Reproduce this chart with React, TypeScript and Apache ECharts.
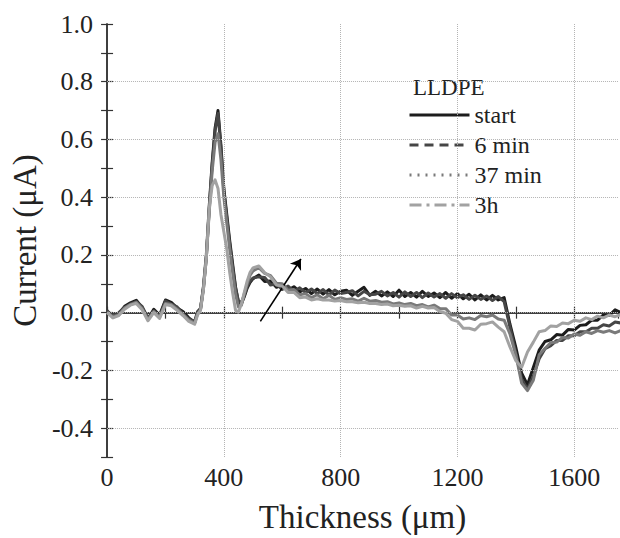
import React, { useEffect, useRef } from 'react';
import * as echarts from 'echarts';

// Thickness positions (µm)
const thickness = [
  0, 20, 40, 60, 80, 100, 120, 140, 160, 180, 200, 220, 240, 260, 280, 300,
  310, 320, 330, 340, 350, 360, 370, 380, 390, 400,
  410, 420, 430, 440, 450, 460, 470, 480, 490, 500,
  520, 540, 560, 580, 600,
  620, 640, 660, 680, 700,
  720, 740, 760, 780, 800,
  820, 840, 860, 880, 900,
  920, 940, 960, 980, 1000,
  1020, 1040, 1060, 1080, 1100,
  1120, 1140, 1160, 1180, 1200,
  1220, 1240, 1260, 1280, 1300,
  1320, 1340, 1360, 1380, 1400,
  1420, 1440, 1460, 1480, 1500,
  1520, 1540, 1560, 1580, 1600,
  1620, 1640, 1660, 1680, 1700,
  1720, 1740, 1760,
];

// Current (µA)
const startValues = [
  0.005, -0.012, -0.004, 0.022, 0.034, 0.043, 0.018, -0.022, 0.012, -0.008, 0.044, 0.036, 0.016, 0.004, -0.018, -0.034,
  0.0, 0.012, 0.09, 0.2, 0.37, 0.52, 0.64, 0.7, 0.58, 0.43,
  0.34, 0.25, 0.17, 0.09, 0.035, 0.03, 0.055, 0.085, 0.105, 0.118,
  0.13, 0.108, 0.11, 0.088, 0.096,
  0.078, 0.09, 0.072, 0.084, 0.066,
  0.082, 0.064, 0.08, 0.062, 0.074,
  0.078, 0.06, 0.074, 0.088, 0.06,
  0.074, 0.058, 0.072, 0.056, 0.078,
  0.056, 0.07, 0.054, 0.074, 0.056,
  0.068, 0.052, 0.07, 0.05, 0.066,
  0.048, 0.064, 0.044, 0.062, 0.044,
  0.06, 0.044, 0.052, -0.04, -0.12,
  -0.21, -0.25, -0.19, -0.13, -0.1,
  -0.094, -0.076, -0.078, -0.058, -0.06,
  -0.044, -0.042, -0.026, -0.026, -0.008,
  -0.01, 0.01, 0.0,
];

const min6Values = [
  0.008, -0.016, 0.0, 0.018, 0.03, 0.038, 0.022, -0.018, 0.006, -0.012, 0.04, 0.03, 0.02, -0.004, -0.022, -0.03,
  0.004, 0.015, 0.085, 0.19, 0.36, 0.51, 0.63, 0.69, 0.57, 0.42,
  0.33, 0.24, 0.16, 0.085, 0.04, 0.035, 0.06, 0.09, 0.11, 0.12,
  0.124, 0.122, 0.096, 0.1, 0.08,
  0.092, 0.074, 0.086, 0.07, 0.082,
  0.066, 0.08, 0.062, 0.078, 0.066,
  0.07, 0.076, 0.058, 0.074, 0.062,
  0.064, 0.074, 0.058, 0.07, 0.054,
  0.072, 0.056, 0.07, 0.052, 0.068,
  0.054, 0.066, 0.05, 0.066, 0.052,
  0.062, 0.046, 0.06, 0.046, 0.058,
  0.042, 0.056, 0.038, -0.05, -0.14,
  -0.23, -0.265, -0.22, -0.16, -0.125,
  -0.114, -0.096, -0.096, -0.08, -0.08,
  -0.066, -0.066, -0.054, -0.054, -0.042,
  -0.046, -0.032, -0.036,
];

const min37Values = [
  0.002, -0.014, -0.008, 0.016, 0.028, 0.036, 0.014, -0.024, 0.004, -0.016, 0.032, 0.028, 0.012, -0.006, -0.026, -0.036,
  -0.004, 0.01, 0.08, 0.19, 0.35, 0.49, 0.59, 0.62, 0.53, 0.4,
  0.31, 0.22, 0.14, 0.065, 0.02, 0.025, 0.065, 0.1, 0.13, 0.145,
  0.156, 0.136, 0.128, 0.102, 0.1,
  0.078, 0.08, 0.062, 0.066, 0.052,
  0.062, 0.048, 0.06, 0.046, 0.052,
  0.046, 0.048, 0.04, 0.05, 0.04,
  0.042, 0.036, 0.038, 0.03, 0.034,
  0.028, 0.032, 0.024, 0.028, 0.02,
  0.026, 0.014, 0.014, -0.008, -0.008,
  -0.022, -0.018, -0.024, -0.01, -0.014,
  -0.008, -0.022, -0.026, -0.074, -0.146,
  -0.244, -0.27, -0.234, -0.146, -0.124,
  -0.104, -0.102, -0.086, -0.088, -0.074,
  -0.078, -0.066, -0.072, -0.062, -0.068,
  -0.062, -0.07, -0.062,
];

const h3Values = [
  0.0, -0.018, -0.01, 0.012, 0.026, 0.032, 0.01, -0.028, 0.0, -0.02, 0.028, 0.024, 0.008, -0.01, -0.03, -0.04,
  -0.008, 0.008, 0.08, 0.19, 0.36, 0.44, 0.46, 0.43, 0.34, 0.28,
  0.22, 0.14, 0.07, 0.008, 0.002, 0.03, 0.07, 0.11, 0.14, 0.155,
  0.162, 0.138, 0.124, 0.096, 0.092,
  0.07, 0.07, 0.052, 0.054, 0.044,
  0.048, 0.044, 0.044, 0.04, 0.042,
  0.038, 0.038, 0.034, 0.036, 0.032,
  0.032, 0.028, 0.03, 0.024, 0.026,
  0.022, 0.024, 0.016, 0.022, 0.016,
  0.018, 0.004, -0.002, -0.024, -0.03,
  -0.054, -0.054, -0.06, -0.04, -0.038,
  -0.032, -0.05, -0.066, -0.119, -0.166,
  -0.189, -0.136, -0.102, -0.066, -0.062,
  -0.046, -0.048, -0.036, -0.038, -0.026,
  -0.03, -0.018, -0.024, -0.012, -0.018,
  -0.008, -0.014, -0.006,
];

const seriesNames = ['start', '6 min', '37 min', '3h'];
const xGridValues = [400, 800, 1200, 1600];
const yGridValues = [-0.4, -0.2, 0.0, 0.2, 0.4, 0.6, 0.8];
const arrowFrom = [525, -0.03];
const arrowTo = [664, 0.186];

const FONT = 'Liberation Serif';

export default function App() {
  const ref = useRef<HTMLDivElement>(null);

  useEffect(() => {
    if (!ref.current) return;
    document.body.style.margin = '0';
    const chart = echarts.init(ref.current, undefined, { renderer: 'svg' });
    const zip = (vals: number[]) => thickness.map((x, i) => [x, vals[i]]);
    const colors = ['#1c1c1c', '#464646', '#7a7a7a', '#a2a2a2'];
    const legendDash: any[] = ['solid', [9, 6], [2, 6], [12, 5, 3, 5]];
    const allVals = [startValues, min6Values, min37Values, h3Values];

    const axisLine = { show: true, lineStyle: { color: '#333', width: 1.5 } };
    const tick = { show: true, inside: true, length: 6, lineStyle: { color: '#333', width: 1.2 } };
    const labelFont = {
      fontSize: 26, fontFamily: FONT, fontWeight: 'normal', fontStyle: 'normal', color: '#222',
    };

    const option: any = {
      animation: false,
      textStyle: { fontFamily: FONT },
      grid: { left: 104, top: 24, width: 514, height: 435, containLabel: false },
      xAxis: [
        {
          type: 'value', min: 0, max: 1750, interval: 200, position: 'bottom',
          axisLine, axisTick: tick, splitLine: { show: false },
          axisLabel: {
            margin: 7, ...labelFont, showMaxLabel: false,
            formatter: (v: number) => (v % 400 === 0 ? String(v) : ''),
          },
          name: 'Thickness (\u03bcm)', nameLocation: 'middle', nameGap: 43,
          nameTextStyle: { fontSize: 33, fontFamily: FONT, color: '#222' },
        },
        {
          type: 'value', min: 0, max: 1750, interval: 200, position: 'top',
          axisLine, axisTick: tick, axisLabel: { show: false }, splitLine: { show: false },
        },
      ],
      yAxis: [
        {
          type: 'value', min: -0.5, max: 1.0, interval: 0.1, position: 'left',
          axisLine, axisTick: tick, splitLine: { show: false },
          axisLabel: {
            margin: 14, ...labelFont,
            formatter: (v: number) => {
              const k = Math.round(v * 10);
              return k % 2 === 0 && k >= -4 ? (k / 10).toFixed(1) : '';
            },
          },
          name: 'Current (\u03bcA)', nameLocation: 'middle', nameGap: 60,
          nameTextStyle: { fontSize: 33, fontFamily: FONT, color: '#222' },
        },
        {
          type: 'value', min: -0.5, max: 1.0, interval: 0.1, position: 'right',
          axisLine, axisTick: tick, axisLabel: { show: false }, splitLine: { show: false },
        },
      ],
      legend: {
        orient: 'vertical', left: 408, top: 103, padding: 0,
        itemWidth: 60, itemHeight: 14, itemGap: 6,
        textStyle: { fontSize: 24, fontFamily: FONT, fontWeight: 'normal', color: '#222' },
        data: seriesNames.map((n, i) => ({
          name: n,
          itemStyle: { opacity: 0 },
          lineStyle: { type: legendDash[i], width: 3, color: colors[i] },
        })),
      },
      graphic: [
        {
          type: 'text', left: 413, top: 76,
          style: { text: 'LLDPE', fontSize: 23, fontFamily: FONT, fill: '#222' },
        },
      ],
      series: [
        {
          name: '__grid', type: 'line', data: [], z: 1, silent: true,
          markLine: {
            silent: true, symbol: 'none', label: { show: false },
            lineStyle: { type: 'dotted', color: '#b4b4b4', width: 1 },
            data: [
              ...xGridValues.map((v) => ({ xAxis: v })),
              ...yGridValues.map((v) => ({ yAxis: v })),
            ],
          },
        },
        ...seriesNames.map((n, i) => ({
          name: n, type: 'line', data: zip(allVals[i]), symbol: 'none', symbolSize: 0, z: 2 + i,
          lineStyle: { color: colors[i], width: 3, type: 'solid', join: 'round' },
          itemStyle: { color: colors[i] },
          ...(i === 3
            ? {
                markLine: {
                  silent: true, symbol: ['none', 'arrow'], symbolSize: 10,
                  label: { show: false },
                  lineStyle: { type: 'solid', color: '#000', width: 1.6 },
                  data: [[{ coord: arrowFrom }, { coord: arrowTo }]],
                },
              }
            : {}),
        })),
      ],
    };
    chart.setOption(option);
    return () => chart.dispose();
  }, []);

  return (
    <div
      ref={ref}
      style={{ position: 'absolute', left: 0, top: 0, width: 620, height: 538, background: '#fff' }}
    />
  );
}
